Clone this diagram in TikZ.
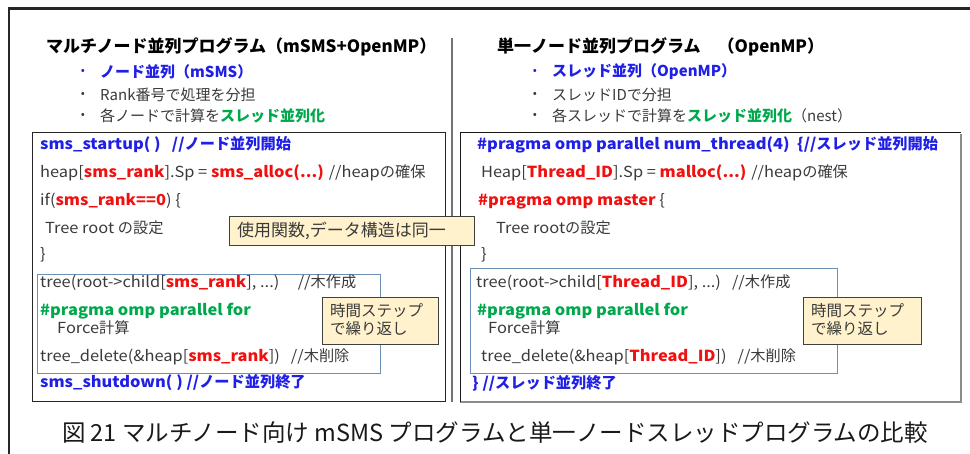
\documentclass[tikz,border=0pt]{standalone}
\usepackage{fontspec}
\setmainfont{Noto Sans CJK JP}
\newfontfamily\capfont{Noto Sans CJK JP}
\newfontfamily\cjkf{Noto Sans CJK JP}
\newfontfamily\latf{Noto Sans CJK JP}[FakeStretch=1.08]
\definecolor{cblue}{HTML}{1F1FE6}
\definecolor{cred}{HTML}{F01010}
\definecolor{cgreen}{HTML}{00A84C}
\definecolor{tgray}{HTML}{3A3A3A}
\definecolor{cyel}{HTML}{FFF2CC}
\definecolor{cinner}{HTML}{6D8FB5}
\newcommand\myred[1]{{\bfseries\color{cred}#1}}
\newcommand\myblue[1]{{\bfseries\color{cblue}#1}}
\newcommand\mygreen[1]{{\bfseries\color{cgreen}#1}}
\newcommand\jpt[1]{{\cjkf #1}}
\tikzset{
  txt/.style={anchor=west, inner sep=0pt, text=tgray, font=\latf\fontsize{15.2}{17}\selectfont},
  bul/.style={anchor=west, inner sep=0pt, text=tgray, font=\fontsize{15}{17}\selectfont},
  head/.style={anchor=west, inner sep=0pt, text=black, font=\bfseries\fontsize{17}{19}\selectfont},
  dot/.style={anchor=center, inner sep=0pt, font=\fontsize{12}{14}\selectfont},
  callout/.style={draw=black!75, fill=cyel, line width=0.8pt, inner sep=0pt, anchor=north west},
  calltxt/.style={anchor=west, inner sep=0pt, text=tgray, font=\fontsize{15.5}{17}\selectfont},
  innerbox/.style={draw=cinner, line width=0.9pt},
}
\begin{document}
\begin{tikzpicture}[x=1pt,y=-1pt]
\useasboundingbox (0,0) rectangle (970,454);
% outer frame
\draw[line width=2.5pt, black!85] (9,454) -- (9,8.5) -- (970,8.5);
\draw[line width=1.6pt, black!55] (452,38) -- (452,402);
% main boxes
\draw[line width=1pt, black!85] (32,133) rectangle (445,402);
\draw[line width=2.2pt, black!45] (961,134) -- (961,402) -- (460,402);
\draw[line width=1pt, black!90] (460,402) -- (460,133) -- (961,133);
% inner boxes
\draw[innerbox] (37,274) rectangle (380,373);
\draw[innerbox] (470,268) rectangle (837,373);

% left headings
\node[head] (lh) at (46,47) {マルチノード並列プログラム（mSMS+OpenMP）};
\node[dot, text=cblue] (lb1d) at (83,72) {•};
\node[bul] (lb1) at (100,72) {\myblue{ノード並列（mSMS）}};
\node[dot, text=tgray] (lb2d) at (83,95) {•};
\node[bul] (lb2) at (100,95) {Rank番号で処理を分担};
\node[dot, text=tgray] (lb3d) at (83,116) {•};
\node[bul] (lb3) at (100,116) {各ノードで計算を\mygreen{スレッド並列化}};

% right headings
\node[head] (rh) at (497,47) {単一ノード並列プログラム　（OpenMP）};
\node[dot, text=cblue] (rb1d) at (535,72) {•};
\node[bul] (rb1) at (552,72) {\myblue{スレッド並列（OpenMP）}};
\node[dot, text=tgray] (rb2d) at (535,95) {•};
\node[bul] (rb2) at (552,95) {スレッドIDで分担};
\node[dot, text=tgray] (rb3d) at (535,116) {•};
\node[bul] (rb3) at (552,116) {各スレッドで計算を\mygreen{スレッド並列化}（nest）};

% left code
\node[txt] (l1) at (40,145) {\myblue{sms\_startup( )\ \ \ //\jpt{ノード並列開始}}};
\node[txt] (l2) at (40,173) {heap[\myred{sms\_rank}].Sp = \myred{sms\_alloc(...)} //heap\jpt{の確保}};
\node[txt] (l3) at (40,201) {if(\myred{sms\_rank==0}) \{};
\node[txt] (l4) at (45,228) {Tree root \jpt{の設定}};
\node[txt] (l5) at (40,255) {\}};
\node[txt] (l6) at (40,283) {tree(root->child[\myred{sms\_rank}], ...)\ \ \ \ \ //\jpt{木作成}};
\node[txt] (l7) at (40,311) {\mygreen{\#pragma omp parallel for}};
\node[txt] (l8) at (57,328) {Force\jpt{計算}};
\node[txt] (l9) at (40,357) {tree\_delete(\&heap[\myred{sms\_rank}])\ \ \ //\jpt{木削除}};
\node[txt] (l10) at (40,383) {\myblue{sms\_shutdown( ) //\jpt{ノード並列終了}}};

% right code
\node[txt] (r1) at (477,145) {\myblue{\#pragma omp parallel num\_thread(4)\ \ \{//\jpt{スレッド並列開始}}};
\node[txt] (r2) at (481,173) {Heap[\myred{Thread\_ID}].Sp = \myred{malloc(...)} //heap\jpt{の確保}};
\node[txt] (r3) at (478,201) {\myred{\#pragma omp master} \{};
\node[txt] (r4) at (496,228) {Tree root\jpt{の設定}};
\node[txt] (r5) at (481,255) {\}};
\node[txt] (r6) at (476,283) {tree(root->child[\myred{Thread\_ID}], ...)\ \ \ //\jpt{木作成}};
\node[txt] (r7) at (477,311) {\mygreen{\#pragma omp parallel for}};
\node[txt] (r8) at (488,328) {Force\jpt{計算}};
\node[txt] (r9) at (481,357) {tree\_delete(\&heap[\myred{Thread\_ID}])\ \ \ //\jpt{木削除}};
\node[txt] (r10) at (472,383) {\myblue{\} //\jpt{スレッド並列終了}}};

% callouts
\node[callout, minimum width=245pt, minimum height=29pt] (c1) at (229,216) {};
\node[calltxt, font=\fontsize{17}{19}\selectfont] (c1t) at (237,231) {使用関数,データ構造は同一};
\node[callout, minimum width=116pt, minimum height=47pt] (c2) at (322,297) {};
\node[calltxt] (c2a) at (330,311) {時間ステップ};
\node[calltxt] (c2b) at (330,329) {で繰り返し};
\node[callout, minimum width=118pt, minimum height=47pt] (c3) at (803,297) {};
\node[calltxt] (c3a) at (811,311) {時間ステップ};
\node[calltxt] (c3b) at (811,329) {で繰り返し};

% caption
\node[anchor=center, inner sep=0pt, text=black!90, font=\capfont\fontsize{23.5}{26}\selectfont] (cap) at (495,433) {図 21 マルチノード向け mSMS プログラムと単一ノードスレッドプログラムの比較};
\end{tikzpicture}
\end{document}
